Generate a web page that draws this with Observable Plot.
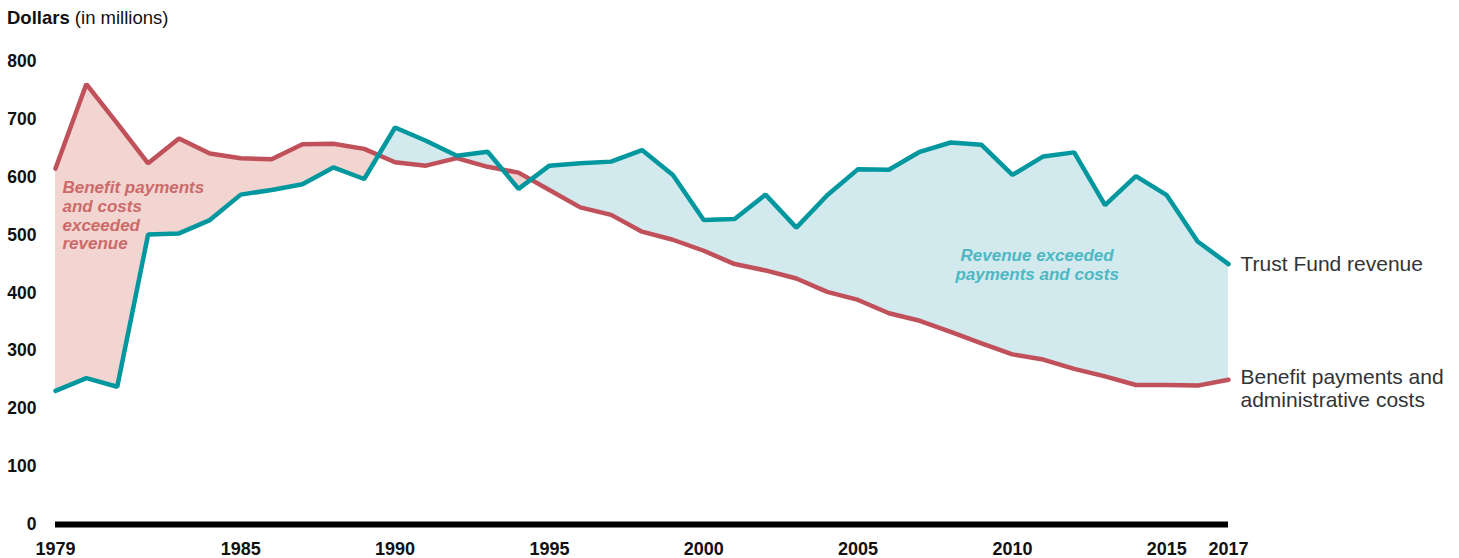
<!DOCTYPE html>
<html>
<head>
<meta charset="utf-8">
<script src="https://cdn.jsdelivr.net/npm/d3@7"></script>
<script src="https://cdn.jsdelivr.net/npm/@observablehq/plot@0.6"></script>
<style>
  html, body { margin: 0; padding: 0; background: #fff; }
  #wrap { position: relative; width: 1459px; height: 558px; font-family: "Liberation Sans", Arial, sans-serif; }
  #title { position: absolute; left: 7px; top: 7px; font-size: 18.5px; color: #111; white-space: nowrap; }
  #title b { font-weight: bold; }
  #chart svg { display: block; }
  g[aria-label="y-axis tick label"] text, g[aria-label="x-axis tick label"] text { font-weight: bold; }
</style>
</head>
<body>
<div id="wrap">
  <div id="chart"></div>
  <div id="title"><b>Dollars</b> (in millions)</div>
</div>
<script>
const years = [1979,1980,1981,1982,1983,1984,1985,1986,1987,1988,1989,1990,1991,1992,1993,1994,1995,1996,1997,1998,1999,2000,2001,2002,2003,2004,2005,2006,2007,2008,2009,2010,2011,2012,2013,2014,2015,2016,2017];
const revenue = [231,253,238,501,503,526,570,578,588,617,597,686,663,637,644,580,620,624,627,647,604,526,528,570,513,569,614,613,644,660,656,604,636,643,552,602,569,489,450];
const benefit = [615,761,693,624,667,641,633,631,657,658,649,626,620,633,618,608,578,548,535,506,492,473,450,439,425,402,388,365,352,333,313,294,285,269,256,241,241,240,250];
const yTicks = [0,100,200,300,400,500,600,700,800];
const xTicks = [1979,1985,1990,1995,2000,2005,2010,2015,2017];
const seriesLabels = ["Trust Fund revenue", "Benefit payments and\nadministrative costs"];
const noteDeficit = "Benefit payments\nand costs\nexceeded\nrevenue";
const noteSurplus = "Revenue exceeded\npayments and costs";

const RED = "#c0505a", TEAL = "#00979f", PINK = "#f2d5d0", BLUE = "#d2e9ee";

const data = years.map((year, i) => ({year, revenue: revenue[i], benefit: benefit[i]}));
const last = data[data.length - 1];

function clipArea(fill, lowerKey, upperKey) {
  return Plot.areaY(data, {
    x: "year", y1: 0, y2: upperKey, fill,
    render(index, scales, values, dims, context, next) {
      const g = next(index, scales, values, dims, context);
      const id = "clip-" + lowerKey + "-" + Math.random().toString(36).slice(2);
      const outer = d3.create("svg:g");
      const cp = outer.append("clipPath").attr("id", id);
      cp.append("path").attr("d", d3.area()
        .x(d => scales.x(d.year))
        .y0(d => scales.y(d[lowerKey]))
        .y1(dims.marginTop - 5)(data));
      const inner = outer.append("g").attr("clip-path", `url(#${id})`);
      inner.node().appendChild(g);
      return outer.node();
    }
  });
}

const fills = Plot.differenceY
  ? [Plot.differenceY(data, {x: "year", y1: "benefit", y2: "revenue", positiveFill: BLUE, negativeFill: PINK, fillOpacity: 1, stroke: "none"})]
  : [clipArea(BLUE, "benefit", "revenue"), clipArea(PINK, "revenue", "benefit")];

const chart = Plot.plot({
  width: 1459,
  height: 558,
  marginLeft: 55,
  marginRight: 231,
  marginTop: 61,
  marginBottom: 34,
  style: {fontFamily: "'Liberation Sans', Arial, sans-serif", background: "#fff", color: "#111"},
  x: {domain: [1979, 2017]},
  y: {domain: [0, 800]},
  marks: [
    ...fills,
    Plot.ruleY([0], {x1: 1979, x2: 2017, stroke: "#000", strokeWidth: 6}),
    Plot.line(data, {x: "year", y: "benefit", stroke: RED, strokeWidth: 4.5, strokeLinejoin: "miter"}),
    Plot.line(data, {x: "year", y: "revenue", stroke: TEAL, strokeWidth: 4.5, strokeLinejoin: "miter"}),
    Plot.axisY({ticks: yTicks, tickSize: 0, tickPadding: 19, fontSize: 17.5, fontWeight: "bold", label: null}),
    Plot.axisX({ticks: xTicks, tickFormat: d => String(d), tickSize: 0, tickPadding: 18, fontSize: 18, fontWeight: "bold", label: null}),
    Plot.text([noteDeficit], {x: 1979, y: 534, dx: 7, text: d => d, textAnchor: "start", lineAnchor: "middle", lineHeight: 1.1, fontSize: 17, fontWeight: "bold", fontStyle: "italic", fill: "#cc6a6a"}),
    Plot.text([noteSurplus], {x: 2010.8, y: 449, text: d => d, textAnchor: "middle", lineAnchor: "middle", lineHeight: 1.12, fontSize: 17, fontWeight: "bold", fontStyle: "italic", fill: "#4db8c3"}),
    Plot.text([last], {x: "year", y: "revenue", text: () => seriesLabels[0], dx: 12, textAnchor: "start", fontSize: 21, fill: "#333"}),
    Plot.text([last], {x: "year", y: "benefit", text: () => seriesLabels[1], dx: 12, dy: -11.5, textAnchor: "start", lineAnchor: "top", lineHeight: 1.08, fontSize: 21, fill: "#333"})
  ]
});
document.getElementById("chart").appendChild(chart);
</script>
</body>
</html>
